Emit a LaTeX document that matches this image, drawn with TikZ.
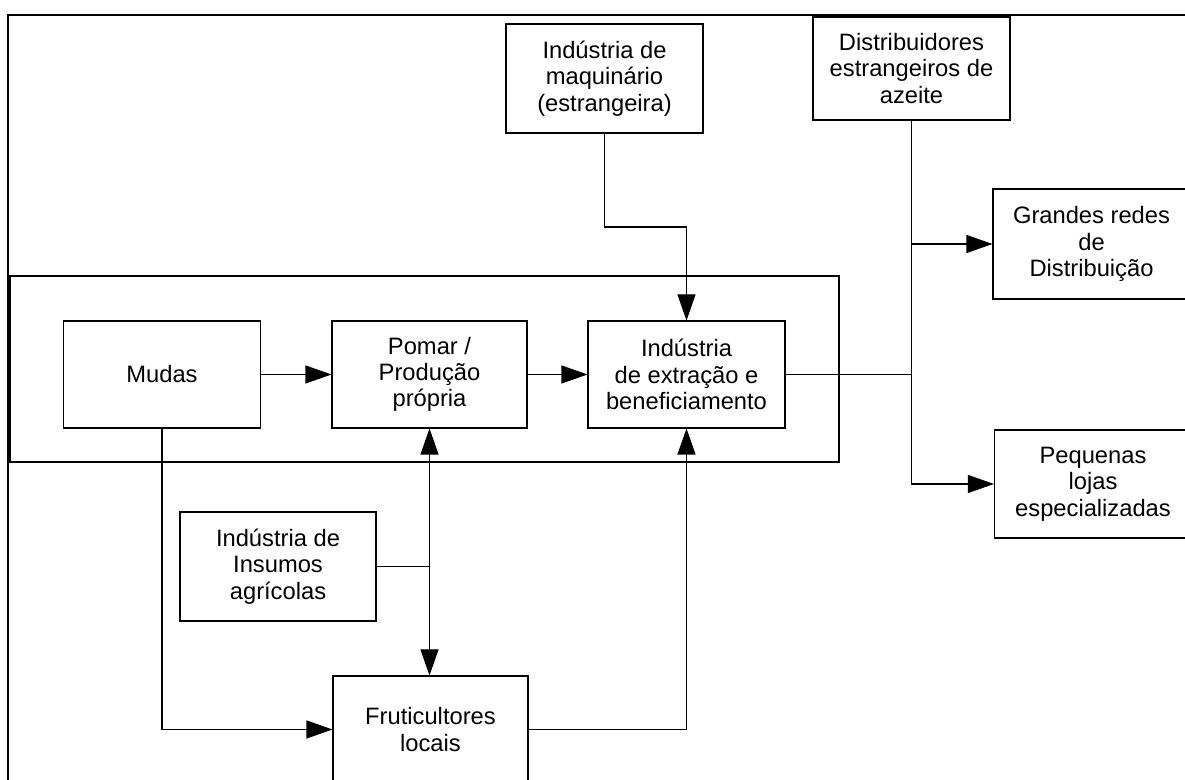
\documentclass[tikz,border=0pt]{standalone}
\usepackage{fontspec}
\setmainfont{Liberation Sans}
\usepackage{tikz}
\usetikzlibrary{arrows.meta}

\begin{document}
\begin{tikzpicture}[
    blok/.style={draw,line width=0.6pt,align=center,inner sep=0pt,minimum width=3.94cm,minimum height=2.14cm,font=\fontsize{13.5}{15}\selectfont},
    link/.style={line width=0.6pt},
    flow/.style={link,-{Triangle[length=0.52cm,width=0.36cm]}},
    dflow/.style={link,{Triangle[length=0.52cm,width=0.36cm]}-{Triangle[length=0.52cm,width=0.36cm]}}
  ]
    \clip (0,0) rectangle (23.7,15.6);
    % frame of the figure
    \draw[line width=1.1pt] (0.16,-0.1) -- (0.16,15.3) -- (23.8,15.3);
    % local chain
    \draw[link] (0.2,6.36) rectangle (16.78,10.08);
    \node[blok] (mudas) at (3.24,8.11) {Mudas};
    \node[blok,minimum width=3.9cm] (pomar) at (8.59,8.11) {Pomar /\\Produção\\própria};
    \node[blok] (extr) at (13.73,8.11) {Indústria\\de extração e\\beneficiamento};
    % suppliers and buyers
    \node[blok,minimum height=2.18cm] (maq) at (12.09,14.03) {Indústria de\\maquinário\\(estrangeira)};
    \node[blok,minimum height=2.06cm] (dist) at (18.23,14.23) {Distribuidores\\estrangeiros de\\azeite};
    \node[blok,minimum height=2.2cm] (gra) at (21.83,10.72) {Grandes redes\\de\\Distribuição};
    \node[blok,minimum height=2.16cm] (peq) at (21.86,5.92) {Pequenas\\lojas\\especializadas};
    \node[blok,minimum width=3.92cm,minimum height=2.18cm] (ins) at (5.56,4.27) {Indústria de\\Insumos\\agrícolas};
    \node[blok,minimum width=3.9cm] (frut) at (8.61,1.01) {Fruticultores\\locais};

    \coordinate (knee) at (12.09,11.06);
    \draw[flow] (mudas) -- (pomar);
    \draw[flow] (pomar) -- (extr);
    \draw[flow] (maq.south) -- (knee) -| (extr.north);
    \draw[link] (extr.east) -- (extr.east -| dist.south);
    \draw[flow] (dist.south) |- (peq.west);
    \draw[line width=1.1pt] (dist.south |- gra.west) -- (dist.south |- peq.west);
    \draw[flow] (dist.south |- gra.west) -- (gra.west);
    \draw[flow] (mudas.south) |- (frut.west);
    \draw[dflow] (pomar.south) -- (pomar.south |- frut.north);
    \draw[link] (ins.east) -- (ins.east -| pomar.south);
    \draw[flow] (frut.east) -| (extr.south);
\end{tikzpicture}
\end{document}
